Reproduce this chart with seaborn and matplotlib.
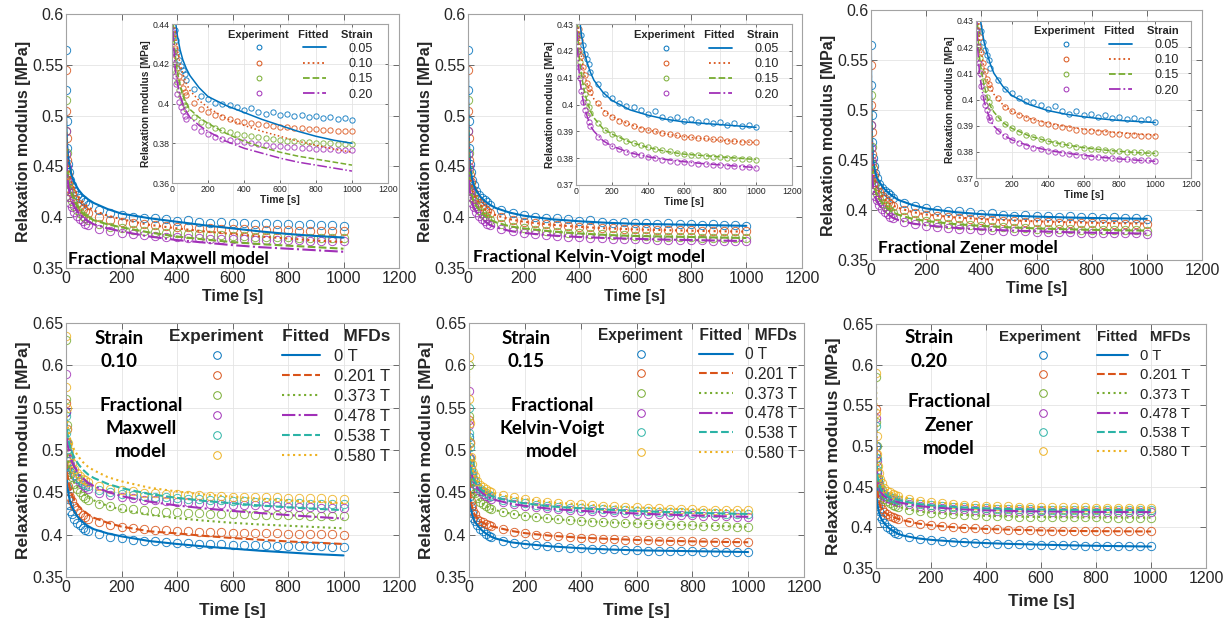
import matplotlib
matplotlib.use('Agg')
import matplotlib.pyplot as plt
import numpy as np
import seaborn as sns
from matplotlib.lines import Line2D
from matplotlib.ticker import FuncFormatter

sns.set_theme(style='whitegrid')
plt.rcParams['font.family'] = ['Liberation Sans', 'DejaVu Sans']
ANNOT_FONT = ['Lato', 'DejaVu Sans']

# ---------------------------------------------------------------- data
T_EXP = [0, 1, 2, 4, 7, 10, 15, 20, 30, 40, 50, 60, 70,
         80, 120, 160, 200, 240, 280, 320, 360, 400, 440, 480, 520, 560, 600,
         640, 680, 720, 760, 800, 840, 880, 920, 960, 1000]
T_FIT = [0, 1, 2, 4, 7, 10, 15, 20, 30, 45, 60, 80, 100, 150, 200, 300, 400,
         500, 600, 700, 800, 900, 1000]

STRAINS = ['0.05', '0.10', '0.15', '0.20']
MFDS = ['0 T', '0.201 T', '0.373 T', '0.478 T', '0.538 T', '0.580 T']

# experiment, no field, four strains
EXP_S005 = [0.565, 0.525, 0.495, 0.468, 0.452, 0.444, 0.437, 0.432, 0.426, 0.422, 0.419, 0.417, 0.415,
            0.412, 0.4075, 0.404, 0.4025, 0.4005, 0.3995, 0.399, 0.398, 0.3965, 0.3975, 0.3955, 0.3945,
            0.3955, 0.394, 0.3945, 0.3935, 0.394, 0.393, 0.3935, 0.3925, 0.393, 0.392, 0.3925, 0.3915]
EXP_S010 = [0.545, 0.505, 0.478, 0.456, 0.442, 0.435, 0.428, 0.424, 0.418, 0.414, 0.411, 0.408, 0.406,
            0.4045, 0.4005, 0.397, 0.3955, 0.394, 0.393, 0.392, 0.391, 0.3905, 0.390, 0.3895, 0.389,
            0.3885, 0.388, 0.388, 0.3875, 0.3875, 0.387, 0.387, 0.3865, 0.3865, 0.3862, 0.386, 0.386]
EXP_S015 = [0.515, 0.485, 0.463, 0.446, 0.433, 0.426, 0.420, 0.416, 0.411, 0.407, 0.404, 0.401, 0.399,
            0.397, 0.393, 0.3905, 0.389, 0.3875, 0.3865, 0.3855, 0.3848, 0.384, 0.3835, 0.383, 0.3825,
            0.382, 0.3815, 0.3812, 0.381, 0.3808, 0.3805, 0.3803, 0.380, 0.380, 0.3798, 0.3797, 0.3795]
EXP_S020 = [0.485, 0.462, 0.449, 0.436, 0.426, 0.420, 0.414, 0.410, 0.405, 0.401, 0.398, 0.396, 0.3935,
            0.392, 0.388, 0.386, 0.3845, 0.3833, 0.3823, 0.3815, 0.381, 0.3805, 0.380, 0.3795, 0.379,
            0.3787, 0.3785, 0.3782, 0.378, 0.3778, 0.3775, 0.3773, 0.3772, 0.377, 0.3768, 0.3767, 0.3765]

# fitted curves, four strains
MAX_S005 = [0.51, 0.495, 0.485, 0.472, 0.462, 0.455, 0.448, 0.441, 0.434, 0.427, 0.422, 0.4175, 0.414,
            0.408, 0.4035, 0.399, 0.3955, 0.392, 0.389, 0.386, 0.3835, 0.3815, 0.380]
MAX_S010 = [0.50, 0.485, 0.475, 0.463, 0.453, 0.446, 0.439, 0.434, 0.427, 0.420, 0.415, 0.410, 0.4065,
            0.4015, 0.398, 0.3925, 0.389, 0.386, 0.3835, 0.381, 0.379, 0.377, 0.3755]
MAX_S015 = [0.49, 0.474, 0.464, 0.452, 0.442, 0.435, 0.428, 0.423, 0.416, 0.409, 0.404, 0.400, 0.397,
            0.393, 0.390, 0.385, 0.381, 0.378, 0.3755, 0.3735, 0.372, 0.3705, 0.369]
MAX_S020 = [0.48, 0.465, 0.455, 0.444, 0.434, 0.428, 0.421, 0.416, 0.410, 0.404, 0.400, 0.396, 0.393,
            0.389, 0.386, 0.381, 0.3775, 0.375, 0.3725, 0.3705, 0.369, 0.3675, 0.366]

KV_S005 = [0.56, 0.52, 0.495, 0.47, 0.453, 0.445, 0.437, 0.432, 0.426, 0.420, 0.416, 0.412, 0.409,
           0.4045, 0.4015, 0.398, 0.396, 0.3945, 0.3935, 0.393, 0.3925, 0.392, 0.3915]
KV_S010 = [0.54, 0.50, 0.478, 0.456, 0.442, 0.435, 0.428, 0.423, 0.418, 0.412, 0.408, 0.4045, 0.402,
           0.398, 0.3955, 0.3925, 0.3905, 0.389, 0.388, 0.3873, 0.3867, 0.3862, 0.3858]
KV_S015 = [0.51, 0.482, 0.462, 0.445, 0.433, 0.426, 0.42, 0.416, 0.411, 0.4055, 0.4015, 0.3975, 0.395,
           0.391, 0.389, 0.386, 0.384, 0.3825, 0.3815, 0.381, 0.3805, 0.38, 0.3795]
KV_S020 = [0.48, 0.46, 0.448, 0.435, 0.425, 0.419, 0.414, 0.410, 0.405, 0.3995, 0.396, 0.392, 0.390,
           0.3865, 0.3845, 0.382, 0.3805, 0.3795, 0.3787, 0.378, 0.3775, 0.377, 0.3765]

ZEN_S005 = [0.56, 0.52, 0.495, 0.47, 0.453, 0.445, 0.438, 0.433, 0.428, 0.422, 0.418, 0.4135, 0.410,
            0.405, 0.4015, 0.398, 0.3958, 0.3944, 0.3934, 0.3926, 0.392, 0.3916, 0.3912]
ZEN_S010 = [0.54, 0.50, 0.478, 0.456, 0.442, 0.435, 0.428, 0.423, 0.418, 0.412, 0.408, 0.4045, 0.402,
            0.398, 0.3955, 0.3927, 0.391, 0.3897, 0.3887, 0.3879, 0.3873, 0.3868, 0.3864]
ZEN_S015 = [0.51, 0.482, 0.462, 0.445, 0.433, 0.426, 0.42, 0.416, 0.411, 0.4055, 0.4015, 0.3975, 0.3952,
            0.3912, 0.389, 0.386, 0.3841, 0.3827, 0.3816, 0.3808, 0.3802, 0.3797, 0.3794]
ZEN_S020 = [0.48, 0.46, 0.448, 0.435, 0.425, 0.419, 0.414, 0.41, 0.405, 0.3995, 0.396, 0.392, 0.3898,
            0.3865, 0.3846, 0.3822, 0.3806, 0.3795, 0.3787, 0.3779, 0.3773, 0.3768, 0.3764]

# experiment under magnetic field, strain 0.10 / 0.15 / 0.20 (0 T reuses the strain series)
EXP010_B201 = [0.555, 0.51, 0.487, 0.47, 0.458, 0.452, 0.445, 0.44, 0.434, 0.429, 0.426, 0.423, 0.421,
               0.419, 0.4145, 0.411, 0.409, 0.4075, 0.4065, 0.4055, 0.405, 0.4045, 0.404, 0.4035, 0.4032,
               0.403, 0.4025, 0.4022, 0.402, 0.4017, 0.4015, 0.4012, 0.401, 0.4008, 0.4005, 0.4003, 0.400]
EXP010_B373 = [0.63, 0.56, 0.53, 0.505, 0.49, 0.482, 0.474, 0.468, 0.46, 0.454, 0.45, 0.446, 0.443,
               0.441, 0.4365, 0.4335, 0.4315, 0.43, 0.429, 0.428, 0.427, 0.4265, 0.426, 0.4255, 0.425,
               0.4247, 0.4244, 0.424, 0.4238, 0.4235, 0.4233, 0.423, 0.4228, 0.4226, 0.4224, 0.4222, 0.422]
EXP010_B478 = [0.59, 0.545, 0.525, 0.508, 0.497, 0.49, 0.483, 0.478, 0.471, 0.466, 0.462, 0.459, 0.456,
               0.454, 0.4495, 0.4465, 0.4445, 0.443, 0.4415, 0.4405, 0.4395, 0.4385, 0.438, 0.4373, 0.4367,
               0.436, 0.4355, 0.435, 0.4345, 0.434, 0.4335, 0.433, 0.4327, 0.4323, 0.432, 0.4317, 0.4315]
EXP010_B538 = [0.54, 0.52, 0.51, 0.5, 0.492, 0.487, 0.481, 0.477, 0.471, 0.467, 0.464, 0.461, 0.459,
               0.457, 0.453, 0.4505, 0.4485, 0.447, 0.446, 0.445, 0.444, 0.4433, 0.4425, 0.442, 0.4413,
               0.4407, 0.44, 0.4395, 0.439, 0.4385, 0.438, 0.4376, 0.4372, 0.4368, 0.4365, 0.4362, 0.436]
EXP010_B580 = [0.635, 0.575, 0.55, 0.525, 0.508, 0.499, 0.49, 0.485, 0.478, 0.473, 0.469, 0.466, 0.464,
               0.462, 0.457, 0.4545, 0.4525, 0.451, 0.4498, 0.449, 0.4482, 0.4475, 0.447, 0.4465, 0.446,
               0.4455, 0.445, 0.4447, 0.4445, 0.4442, 0.444, 0.4437, 0.4435, 0.4432, 0.443, 0.4427, 0.4425]

EXP015_B201 = [0.535, 0.49, 0.468, 0.451, 0.44, 0.434, 0.428, 0.424, 0.419, 0.4165, 0.4145, 0.4128, 0.4115,
               0.4105, 0.4065, 0.4035, 0.4015, 0.400, 0.399, 0.398, 0.397, 0.3963, 0.3957, 0.395, 0.3946,
               0.3942, 0.3938, 0.3934, 0.393, 0.3927, 0.3924, 0.3921, 0.3919, 0.3917, 0.3915, 0.3913, 0.3911]
EXP015_B373 = [0.60, 0.54, 0.51, 0.485, 0.47, 0.462, 0.454, 0.449, 0.443, 0.439, 0.436, 0.434, 0.432,
               0.4305, 0.4265, 0.424, 0.4222, 0.4205, 0.4192, 0.418, 0.417, 0.4162, 0.4155, 0.4148, 0.4142,
               0.4137, 0.4132, 0.4127, 0.4122, 0.4118, 0.4114, 0.411, 0.4106, 0.4102, 0.4099, 0.4096, 0.4093]
EXP015_B478 = [0.57, 0.53, 0.508, 0.49, 0.478, 0.471, 0.464, 0.46, 0.455, 0.451, 0.448, 0.446, 0.444,
               0.4425, 0.4385, 0.436, 0.434, 0.4325, 0.4312, 0.43, 0.429, 0.4282, 0.4275, 0.4268, 0.4262,
               0.4256, 0.425, 0.4245, 0.424, 0.4235, 0.4231, 0.4227, 0.4223, 0.422, 0.4217, 0.4214, 0.4211]
EXP015_B538 = [0.55, 0.52, 0.503, 0.489, 0.479, 0.473, 0.467, 0.463, 0.458, 0.454, 0.451, 0.449, 0.447,
               0.4455, 0.4415, 0.439, 0.437, 0.4355, 0.4342, 0.433, 0.432, 0.4312, 0.4305, 0.4298, 0.4292,
               0.4286, 0.428, 0.4275, 0.427, 0.4266, 0.4262, 0.4258, 0.4255, 0.4252, 0.425, 0.4247, 0.4245]
EXP015_B580 = [0.61, 0.56, 0.532, 0.508, 0.492, 0.483, 0.474, 0.469, 0.463, 0.459, 0.456, 0.4535, 0.4515,
               0.4503, 0.4465, 0.444, 0.442, 0.4403, 0.439, 0.4378, 0.4367, 0.4358, 0.435, 0.4342, 0.4335,
               0.4328, 0.4322, 0.4316, 0.4311, 0.4306, 0.4302, 0.4298, 0.4295, 0.4292, 0.429, 0.4288, 0.4286]

EXP020_B201 = [0.545, 0.49, 0.468, 0.45, 0.439, 0.433, 0.427, 0.423, 0.419, 0.416, 0.4143, 0.4128, 0.4115,
               0.4105, 0.4068, 0.4042, 0.4025, 0.4012, 0.4001, 0.3993, 0.3986, 0.398, 0.3975, 0.397, 0.3967,
               0.3964, 0.3961, 0.3959, 0.3957, 0.3955, 0.3954, 0.3953, 0.3952, 0.3951, 0.395, 0.395, 0.3949]
EXP020_B373 = [0.585, 0.53, 0.5, 0.475, 0.46, 0.452, 0.444, 0.44, 0.435, 0.432, 0.4298, 0.428, 0.4265,
               0.4253, 0.4218, 0.4195, 0.418, 0.4168, 0.4159, 0.4152, 0.4146, 0.4141, 0.4137, 0.4134, 0.4131,
               0.4129, 0.4127, 0.4125, 0.4124, 0.4123, 0.4122, 0.4121, 0.412, 0.412, 0.4119, 0.4119, 0.4118]
EXP020_B478 = [0.535, 0.5, 0.482, 0.467, 0.457, 0.451, 0.445, 0.442, 0.4385, 0.4362, 0.4345, 0.4332, 0.4322,
               0.4312, 0.4282, 0.4262, 0.4248, 0.4237, 0.4228, 0.4221, 0.4215, 0.421, 0.4206, 0.4203, 0.42,
               0.4198, 0.4196, 0.4194, 0.4193, 0.4192, 0.4191, 0.419, 0.419, 0.4189, 0.4189, 0.4188, 0.4188]
EXP020_B538 = [0.525, 0.5, 0.485, 0.471, 0.461, 0.455, 0.449, 0.4455, 0.4415, 0.439, 0.4372, 0.4358, 0.4347,
               0.4337, 0.4306, 0.4285, 0.4271, 0.426, 0.4251, 0.4244, 0.4238, 0.4233, 0.4229, 0.4226, 0.4223,
               0.4221, 0.4219, 0.4217, 0.4216, 0.4215, 0.4214, 0.4213, 0.4213, 0.4212, 0.4212, 0.4211, 0.4211]
EXP020_B580 = [0.59, 0.54, 0.512, 0.49, 0.475, 0.467, 0.459, 0.454, 0.4485, 0.4452, 0.443, 0.4413, 0.44,
               0.4388, 0.4352, 0.4328, 0.4311, 0.4298, 0.4288, 0.428, 0.4273, 0.4267, 0.4262, 0.4258, 0.4255,
               0.4252, 0.425, 0.4248, 0.4246, 0.4245, 0.4244, 0.4243, 0.4242, 0.4242, 0.4241, 0.4241, 0.424]

# fitted under magnetic field (0 T reuses the strain fit)
MAX010_B201 = [0.50, 0.49, 0.483, 0.474, 0.466, 0.46, 0.453, 0.448, 0.441, 0.434, 0.429, 0.424, 0.42,
               0.414, 0.4095, 0.404, 0.4015, 0.3985, 0.396, 0.394, 0.392, 0.3905, 0.389]
MAX010_B373 = [0.52, 0.51, 0.503, 0.494, 0.486, 0.48, 0.473, 0.468, 0.461, 0.454, 0.449, 0.444, 0.4405,
               0.434, 0.4295, 0.4235, 0.4195, 0.4165, 0.414, 0.412, 0.4105, 0.409, 0.4075]
MAX010_B478 = [0.54, 0.53, 0.523, 0.513, 0.505, 0.499, 0.492, 0.487, 0.48, 0.472, 0.467, 0.461, 0.4575,
               0.4505, 0.4455, 0.439, 0.4345, 0.431, 0.428, 0.4255, 0.4232, 0.421, 0.419]
MAX010_B538 = [0.55, 0.54, 0.533, 0.524, 0.516, 0.51, 0.503, 0.498, 0.491, 0.483, 0.477, 0.471, 0.467,
               0.46, 0.455, 0.448, 0.4435, 0.4398, 0.437, 0.4345, 0.4323, 0.4305, 0.429]
MAX010_B580 = [0.56, 0.55, 0.543, 0.534, 0.526, 0.52, 0.513, 0.507, 0.5, 0.492, 0.486, 0.48, 0.476,
               0.468, 0.463, 0.4555, 0.451, 0.4475, 0.4448, 0.4425, 0.4405, 0.4388, 0.4372]

KV015_B201 = [0.53, 0.49, 0.468, 0.451, 0.44, 0.434, 0.428, 0.424, 0.4195, 0.415, 0.4125, 0.41, 0.4085,
              0.4045, 0.4018, 0.3985, 0.3964, 0.395, 0.3938, 0.3928, 0.3921, 0.3915, 0.391]
KV015_B373 = [0.59, 0.535, 0.508, 0.485, 0.47, 0.462, 0.454, 0.449, 0.443, 0.4375, 0.434, 0.4305, 0.4285,
              0.4248, 0.4222, 0.4185, 0.4162, 0.4145, 0.4132, 0.412, 0.411, 0.4101, 0.4093]
KV015_B478 = [0.56, 0.525, 0.506, 0.49, 0.478, 0.471, 0.464, 0.46, 0.455, 0.45, 0.446, 0.4425, 0.4405,
              0.4365, 0.434, 0.4303, 0.4282, 0.4265, 0.425, 0.4238, 0.4227, 0.4218, 0.4211]
KV015_B538 = [0.545, 0.518, 0.502, 0.489, 0.479, 0.473, 0.467, 0.463, 0.458, 0.453, 0.449, 0.4455, 0.4435,
              0.4395, 0.437, 0.4332, 0.4312, 0.4295, 0.428, 0.4268, 0.4258, 0.4251, 0.4245]
KV015_B580 = [0.60, 0.555, 0.53, 0.508, 0.492, 0.483, 0.474, 0.469, 0.463, 0.4575, 0.4535, 0.4503, 0.448,
              0.4443, 0.442, 0.438, 0.4358, 0.4338, 0.4322, 0.4308, 0.4298, 0.4291, 0.4286]

ZEN020_B201 = [0.54, 0.49, 0.468, 0.45, 0.439, 0.433, 0.427, 0.423, 0.419, 0.415, 0.4128, 0.4105, 0.4085,
               0.4048, 0.4025, 0.3996, 0.398, 0.397, 0.3962, 0.3956, 0.3953, 0.3951, 0.3949]
ZEN020_B373 = [0.58, 0.528, 0.5, 0.475, 0.46, 0.452, 0.444, 0.44, 0.435, 0.431, 0.428, 0.4253, 0.4235,
               0.4198, 0.418, 0.4155, 0.4141, 0.4132, 0.4127, 0.4123, 0.4121, 0.412, 0.4118]
ZEN020_B478 = [0.53, 0.5, 0.482, 0.467, 0.457, 0.451, 0.445, 0.442, 0.4385, 0.4353, 0.4332, 0.4312, 0.4296,
               0.4265, 0.4248, 0.4224, 0.421, 0.4201, 0.4196, 0.4192, 0.419, 0.4189, 0.4188]
ZEN020_B538 = [0.52, 0.498, 0.485, 0.471, 0.461, 0.455, 0.449, 0.4455, 0.4415, 0.438, 0.4358, 0.4337, 0.4321,
               0.4289, 0.4271, 0.4247, 0.4233, 0.4224, 0.4219, 0.4215, 0.4213, 0.4212, 0.4211]
ZEN020_B580 = [0.58, 0.538, 0.512, 0.49, 0.475, 0.467, 0.459, 0.454, 0.4485, 0.444, 0.4413, 0.4388, 0.437,
               0.4333, 0.4311, 0.4284, 0.4267, 0.4256, 0.425, 0.4245, 0.4243, 0.4241, 0.424]

# ---------------------------------------------------------------- style
BLUE, ORANGE, GREEN, PURPLE, CYAN, YELLOW = '#0072BD', '#D95319', '#77AC30', '#A130B8', '#2BB3A6', '#EDB120'
TOP_COLORS = [BLUE, ORANGE, GREEN, PURPLE]
TOP_STYLES = ['-', ':', '--', '-.']
BOT_COLORS = [BLUE, ORANGE, GREEN, PURPLE, CYAN, YELLOW]
BOT_STYLES = ['-', '--', ':', '-.', '--', ':']

EDGE = '#a3a3a3'
TXT = '#262626'
W, H = 1227, 624


def rect(l, t, r, b):
    return [l / W, 1 - b / H, (r - l) / W, (b - t) / H]


def style_axes(ax, ylim, ystep, tick_fs, tick_len):
    ax.set_xlim(0, 1200)
    ax.set_ylim(*ylim)
    ax.set_xticks(np.arange(0, 1201, 200))
    ax.set_yticks(np.round(np.arange(ylim[0], ylim[1] + ystep / 2, ystep), 3))
    ax.yaxis.set_major_formatter(FuncFormatter(lambda v, p: f'{round(v, 3):g}'))
    ax.tick_params(direction='in', top=True, right=True, bottom=True, left=True,
                   labelsize=tick_fs, length=tick_len, width=0.6, color='#555555',
                   labelcolor=TXT, pad=2)
    ax.grid(True, color='#e4e4e4', lw=0.6)
    ax.set_facecolor('white')
    for s in ax.spines.values():
        s.set_color(EDGE)
        s.set_linewidth(0.8)


def draw_series(ax, exp_list, fit_list, colors, styles, ms, lw):
    for y, c in zip(exp_list, colors):
        sns.lineplot(x=T_EXP, y=y, ax=ax, color=c, linestyle='', marker='o', markersize=ms,
                     markerfacecolor='none', markeredgecolor=c, markeredgewidth=0.7,
                     alpha=0.85, estimator=None, sort=False, legend=False)
    for y, c, s in zip(fit_list, colors, styles):
        sns.lineplot(x=T_FIT, y=y, ax=ax, color=c, linestyle=s, linewidth=lw,
                     estimator=None, sort=False, legend=False)


def add_legend(ax, colors, styles, labels, header, fs, hfs, ms, lw, hl, pad, cs, ls, anchor):
    handles = [Line2D([], [], ls='', marker='o', ms=ms, mfc='none', mec=c, mew=0.7) for c in colors]
    handles += [Line2D([], [], color=c, ls=s, lw=lw) for c, s in zip(colors, styles)]
    ax.legend(handles, [''] * len(colors) + labels, ncol=2, loc='upper right', bbox_to_anchor=anchor,
              title=header, title_fontproperties={'weight': 'bold', 'size': hfs}, fontsize=fs,
              frameon=False, handlelength=hl, handletextpad=pad, columnspacing=cs, labelspacing=ls,
              borderaxespad=0, borderpad=0, alignment='right', labelcolor=TXT)


fig = plt.figure(figsize=(W / 100, H / 100), dpi=100)

EXP_TOP = [EXP_S005, EXP_S010, EXP_S015, EXP_S020]

top_panels = [
    ('Fractional Maxwell model', rect(66, 14, 399, 268), rect(172, 24, 388, 183),
     [MAX_S005, MAX_S010, MAX_S015, MAX_S020], (0.36, 0.44), 0.02, (0.006, 0.035), (0.93, 0.965),
     'Experiment   Fitted    Strain'),
    ('Fractional Kelvin-Voigt model', rect(468, 14, 802, 268), rect(576, 24, 792, 185),
     [KV_S005, KV_S010, KV_S015, KV_S020], (0.37, 0.43), 0.01, (0.015, 0.045), (0.94, 0.965),
     'Experiment   Fitted    Strain'),
    ('Fractional Zener model', rect(871, 10, 1202, 260), rect(976, 21, 1191, 178),
     [ZEN_S005, ZEN_S010, ZEN_S015, ZEN_S020], (0.37, 0.43), 0.01, (0.02, 0.05), (0.944, 0.97),
     'Experiment   Fitted    Strain'),
]

for name, main_rect, inset_rect, fits, ilim, istep, txt_pos, leg_pos, header in top_panels:
    ax = fig.add_axes(main_rect)
    style_axes(ax, (0.35, 0.6), 0.05, 11.5, 4)
    draw_series(ax, EXP_TOP, fits, TOP_COLORS, TOP_STYLES, 6, 1.5)
    ax.set_xlabel('Time [s]', fontsize=11.5, fontweight='bold', color=TXT, labelpad=2)
    ax.set_ylabel('Relaxation modulus [MPa]', fontsize=11.5, fontweight='bold', color=TXT, labelpad=1)
    ax.text(txt_pos[0], txt_pos[1], name, transform=ax.transAxes, fontsize=12.5, fontweight='bold',
            family=ANNOT_FONT, va='center', ha='left', color='black')

    ins = fig.add_axes(inset_rect)
    style_axes(ins, ilim, istep, 6.3, 2.5)
    ins.tick_params(pad=1.5)
    draw_series(ins, EXP_TOP, fits, TOP_COLORS, TOP_STYLES, 3.8, 1.1)
    ins.set_xlabel('Time [s]', fontsize=7.5, fontweight='bold', color=TXT, labelpad=1)
    ins.set_ylabel('Relaxation modulus [MPa]', fontsize=7.3, fontweight='bold', color=TXT, labelpad=1)
    add_legend(ins, TOP_COLORS, TOP_STYLES, STRAINS, header, 9, 8, 3.5, 1.3,
               1.85, 1.8, 0.75, 0.26, leg_pos)

bottom_panels = [
    ('0.10', 'Fractional\nMaxwell\nmodel', rect(66, 323, 399, 577),
     [EXP_S010, EXP010_B201, EXP010_B373, EXP010_B478, EXP010_B538, EXP010_B580],
     [MAX_S010, MAX010_B201, MAX010_B373, MAX010_B478, MAX010_B538, MAX010_B580],
     (0.159, 0.225), 12, 12.4, 2.3, 0.84, 1.9, 0.3, (0.973, 0.976), 'Experiment    Fitted   MFDs'),
    ('0.15', 'Fractional\nKelvin-Voigt\nmodel', rect(469, 323, 804, 577),
     [EXP_S015, EXP015_B201, EXP015_B373, EXP015_B478, EXP015_B538, EXP015_B580],
     [KV_S015, KV015_B201, KV015_B373, KV015_B478, KV015_B538, KV015_B580],
     (0.170, 0.248), 11.2, 11.2, 2.2, 0.77, 1.8, 0.3, (0.979, 0.982), 'Experiment    Fitted   MFDs'),
    ('0.20', 'Fractional\nZener\nmodel', rect(876, 324, 1206, 568),
     [EXP_S020, EXP020_B201, EXP020_B373, EXP020_B478, EXP020_B538, EXP020_B580],
     [ZEN_S020, ZEN020_B201, ZEN020_B373, ZEN020_B478, ZEN020_B538, ZEN020_B580],
     (0.161, 0.221), 10.6, 10.8, 2.1, 0.82, 1.8, 0.35, (0.952, 0.975), 'Experiment    Fitted   MFDs'),
]

for strain, model, r, exps, fits, xs, fs, hfs, hl, pad, cs, ls, leg_pos, header in bottom_panels:
    ax = fig.add_axes(r)
    style_axes(ax, (0.35, 0.65), 0.05, 11.5, 4)
    draw_series(ax, exps, fits, BOT_COLORS, BOT_STYLES, 6, 1.5)
    ax.set_xlabel('Time [s]', fontsize=12.5, fontweight='bold', color=TXT, labelpad=6)
    ax.set_ylabel('Relaxation modulus [MPa]', fontsize=12.5, fontweight='bold', color=TXT, labelpad=1)
    ax.text(xs[0], 0.895, 'Strain\n' + strain, transform=ax.transAxes, fontsize=13.5, fontweight='bold',
            family=ANNOT_FONT, ha='center', va='center', linespacing=1.45, color='black')
    ax.text(xs[1], 0.585, model, transform=ax.transAxes, fontsize=13.5, fontweight='bold',
            family=ANNOT_FONT, ha='center', va='center', linespacing=1.45, color='black')
    add_legend(ax, BOT_COLORS, BOT_STYLES, MFDS, header, fs, hfs, 5.5, 1.5,
               hl, pad, cs, ls, leg_pos)

fig.savefig('out.png', dpi=100, facecolor='white')
